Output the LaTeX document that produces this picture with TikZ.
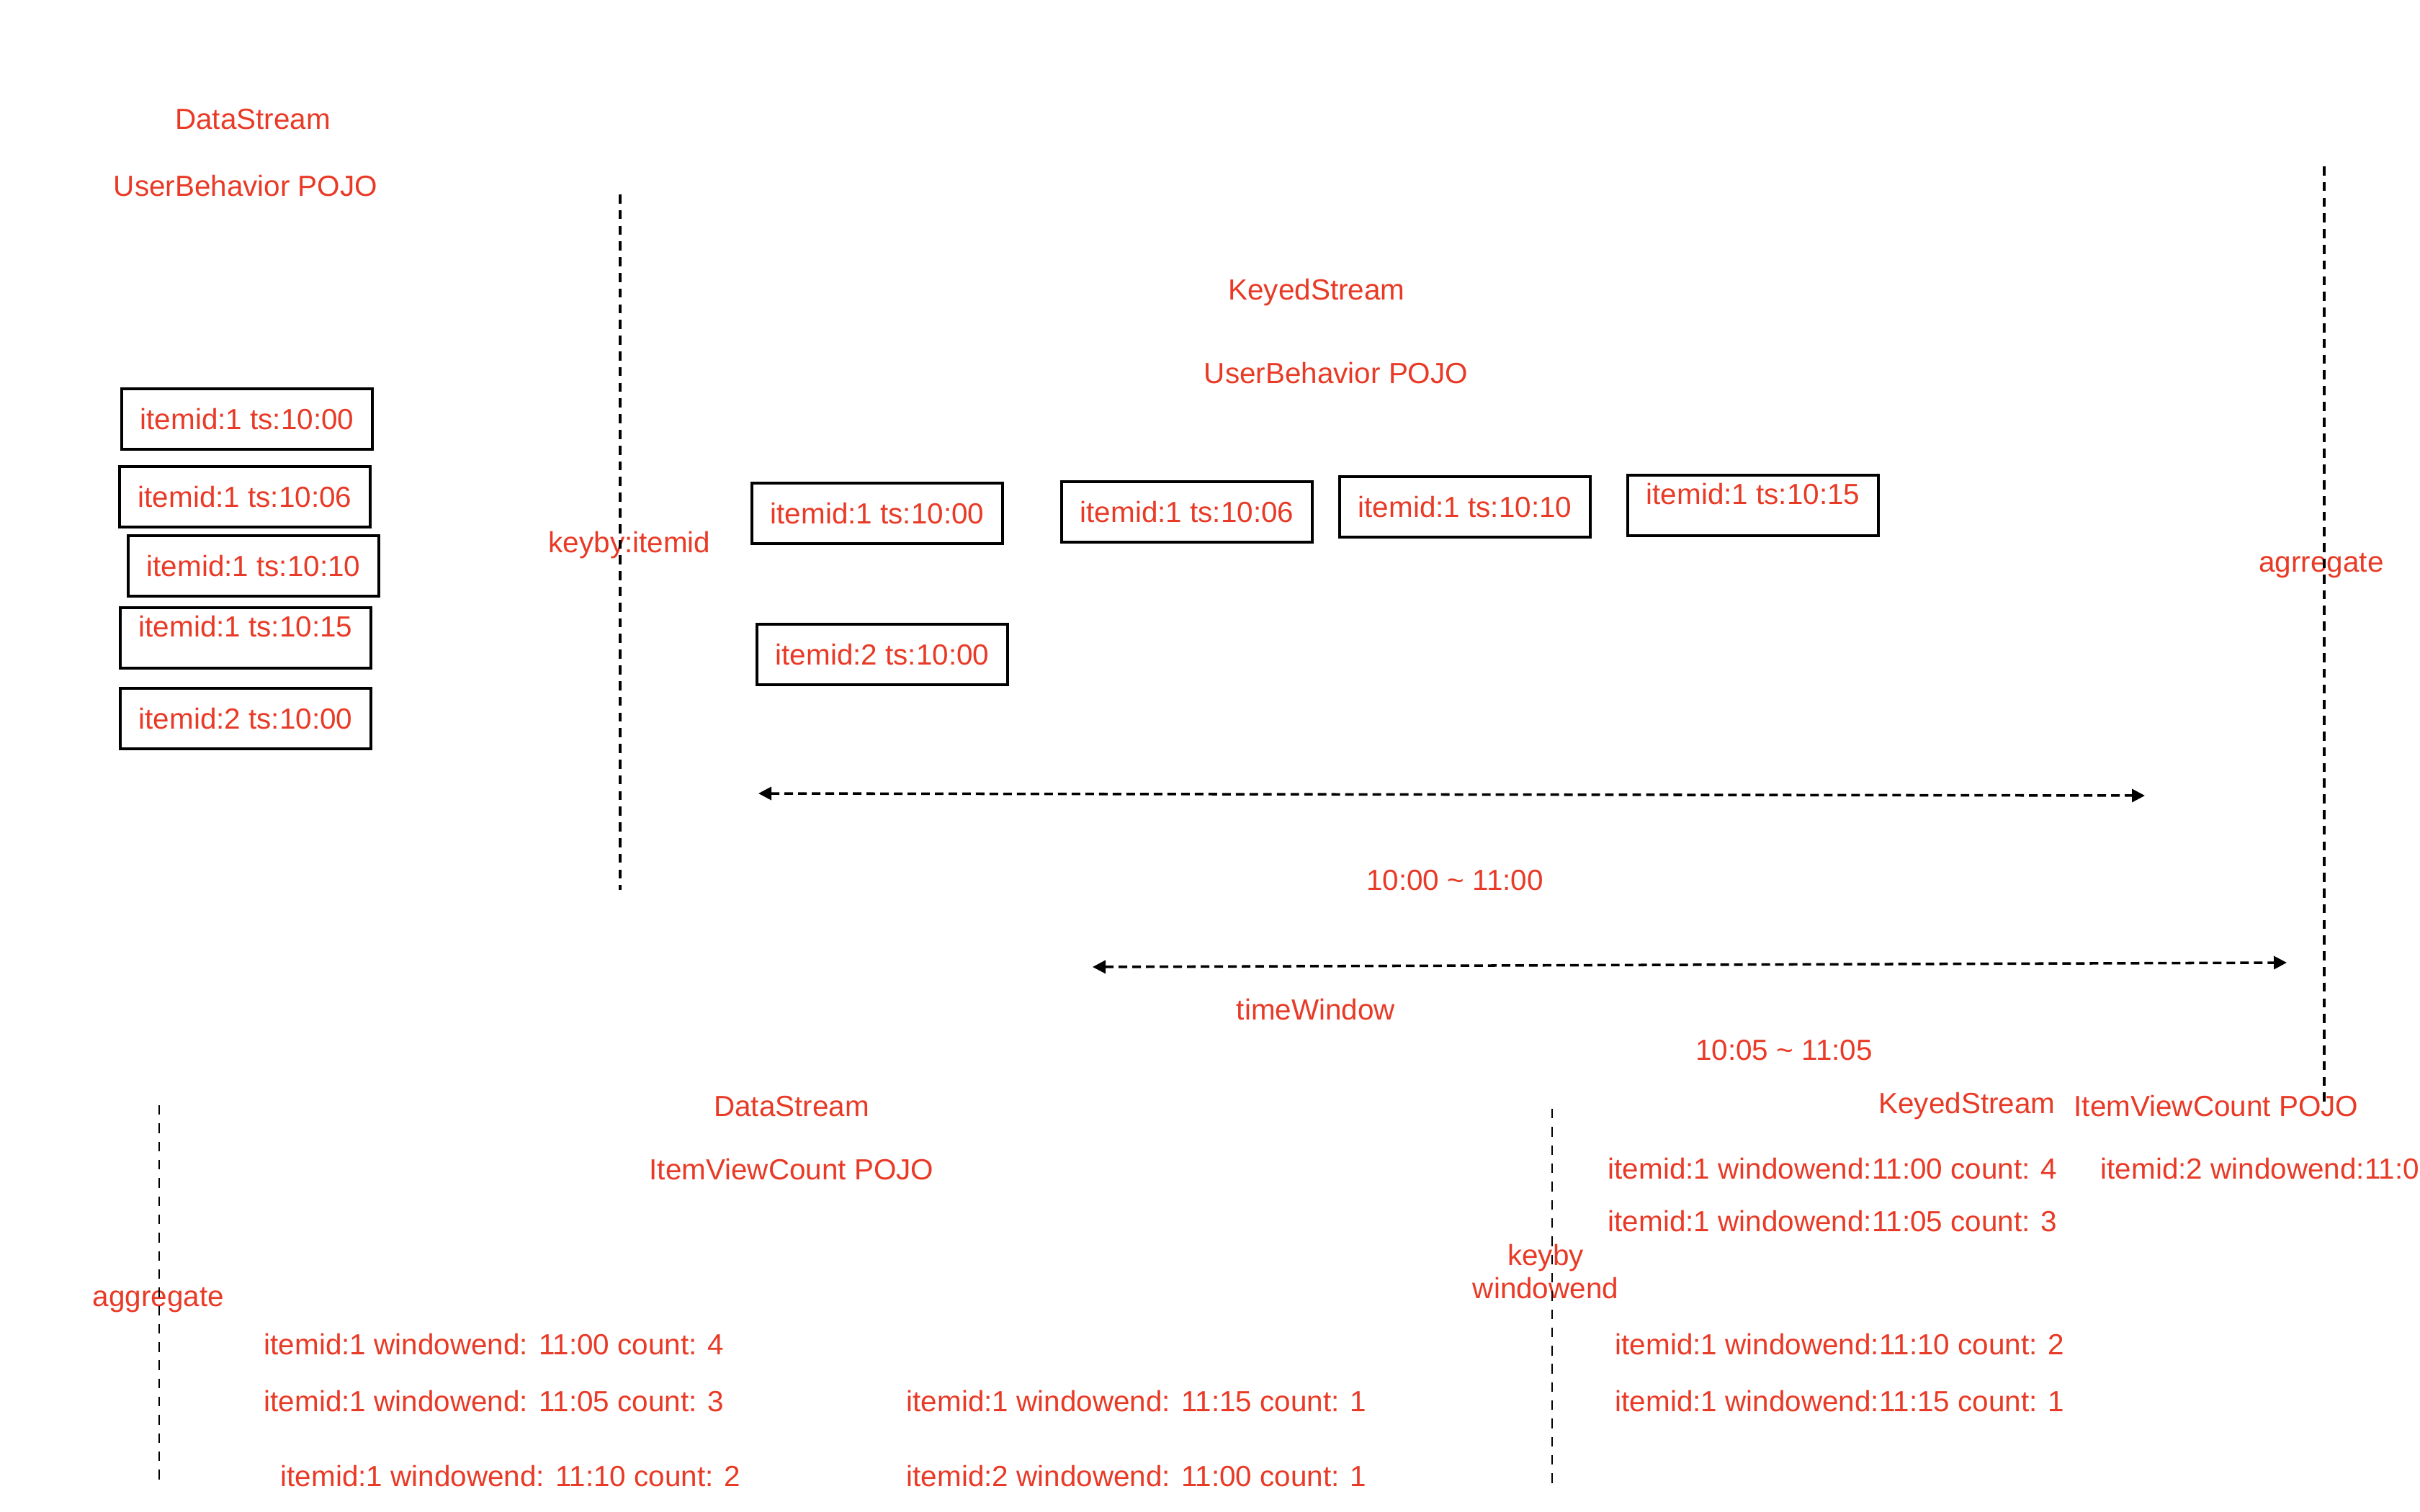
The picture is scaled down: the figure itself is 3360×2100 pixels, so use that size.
\documentclass[tikz,border=0pt]{standalone}
\usepackage{fontspec}
\setmainfont{Liberation Sans}
\usetikzlibrary{arrows.meta}
\definecolor{flinkred}{RGB}{232,58,38}
\begin{document}
\begin{tikzpicture}[x=0.01cm,y=-0.01cm,
  every node/.style={text=flinkred,font=\fontsize{11.5}{13}\selectfont},
  evtbox/.style={draw=black,line width=1.2pt,minimum width=3.48cm,minimum height=0.84cm,inner sep=0pt},
  rowtxt/.style={anchor=west,inner xsep=0pt},
  sepline/.style={line width=1pt,dash pattern=on 3.6pt off 2.6pt},
  thinsep/.style={line width=0.7pt,dash pattern=on 3.8pt off 3.4pt},
  winarrow/.style={line width=1pt,dash pattern=on 3.4pt off 2pt,{Triangle[length=1.8mm,width=1.8mm]}-{Triangle[length=1.8mm,width=1.8mm]}}]
\useasboundingbox (0,0) rectangle (3360,2100);
% source stream
\node (ds1) at (351,166) {DataStream};
\node (pojo1) at (341,258) {UserBehavior POJO};
\node[evtbox] (s1) at (343,582) {itemid:1 ts:10:00};
\node[evtbox] (s2) at (340,690) {itemid:1 ts:10:06};
\node[evtbox] (s3) at (352,786) {itemid:1 ts:10:10};
\node[evtbox] (s4) at (341,886) {};
\node (s4t) at ([yshift=0.16cm]s4.center) {itemid:1 ts:10:15};
\node[evtbox] (s5) at (341,998) {itemid:2 ts:10:00};
% keyby itemid
\node (keyby1) at (874,757) {keyby:itemid};
\coordinate (k1top) at (861,270);
\coordinate (k1bot) at (861,1236);
\draw[sepline] (k1top) -- (k1bot);
% keyed stream
\node (ks1) at (1828,406) {KeyedStream};
\node (pojo2) at (1855,518) {UserBehavior POJO};
\node[evtbox] (k1) at (1218,713) {itemid:1 ts:10:00};
\node[evtbox] (k2) at (1648,711) {itemid:1 ts:10:06};
\node[evtbox] (k3) at (2034,704) {itemid:1 ts:10:10};
\node[evtbox] (k4) at (2434,702) {};
\node (k4t) at ([yshift=0.16cm]k4.center) {itemid:1 ts:10:15};
\node[evtbox] (k5) at (1225,909) {itemid:2 ts:10:00};
% windows
\coordinate (w1a) at (1053,1102);
\coordinate (w1b) at (2978,1105);
\draw[winarrow] (w1a) -- (w1b);
\node (w1) at (2020,1223) {10:00 \textasciitilde{} 11:00};
\coordinate (w2a) at (1517,1343);
\coordinate (w2b) at (3175,1337);
\draw[winarrow] (w2a) -- (w2b);
\node (tw) at (1827,1402) {timeWindow};
\node (w2) at (2477,1459) {10:05 \textasciitilde{} 11:05};
% aggregate
\node (agg1) at (3223,786) {agrregate};
\coordinate (a1top) at (3227,231);
\coordinate (a1bot) at (3227,1530);
\draw[sepline] (a1top) -- (a1bot);
% keyed by windowend
\node (ks2) at (2731,1536) {KeyedStream};
\node (pojo3) at (3077,1536) {ItemViewCount POJO};
\node[rowtxt] (r1) at (2232,1623) {itemid:1 windowend:11:00 count: 4};
\node[rowtxt] (r2) at (2232,1696) {itemid:1 windowend:11:05 count: 3};
\node[rowtxt] (r3) at (2242,1867) {itemid:1 windowend:11:10 count: 2};
\node[rowtxt] (r4) at (2242,1946) {itemid:1 windowend:11:15 count: 1};
\node[rowtxt] (r5) at (2916,1623) {itemid:2 windowend:11:0};
\node[align=center] (keyby2) at (2146,1766) {keyby\\windowend};
\coordinate (k2top) at (2155,1540);
\coordinate (k2bot) at (2155,2062);
\draw[thinsep] (k2top) -- (k2bot);
% aggregated stream
\node (ds2) at (1099,1537) {DataStream};
\node (pojo4) at (1099,1624) {ItemViewCount POJO};
\node (agg2) at (220,1806) {aggregate};
\coordinate (a2top) at (221,1535);
\coordinate (a2bot) at (221,2064);
\draw[thinsep] (a2top) -- (a2bot);
\node[rowtxt] (c1) at (366,1867) {itemid:1 windowend: 11:00 count: 4};
\node[rowtxt] (c2) at (366,1946) {itemid:1 windowend: 11:05 count: 3};
\node[rowtxt] (c3) at (389,2050) {itemid:1 windowend: 11:10 count: 2};
\node[rowtxt] (c4) at (1258,1946) {itemid:1 windowend: 11:15 count: 1};
\node[rowtxt] (c5) at (1258,2050) {itemid:2 windowend: 11:00 count: 1};
\end{tikzpicture}
\end{document}
